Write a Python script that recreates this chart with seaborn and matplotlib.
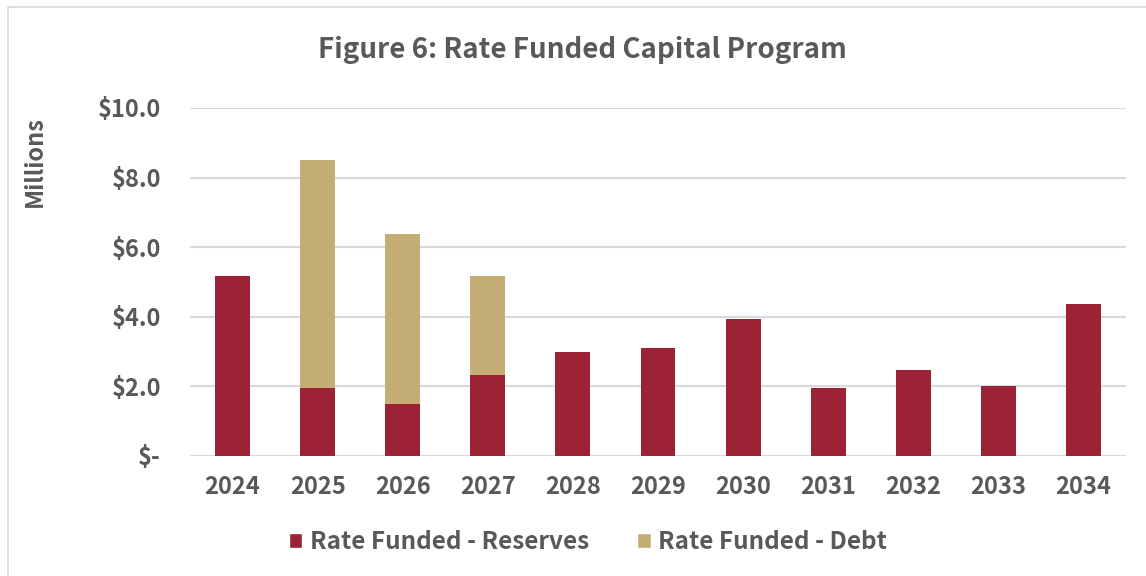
import matplotlib
matplotlib.use('Agg')
import matplotlib.pyplot as plt
from matplotlib.patches import Patch, Rectangle
import seaborn as sns
import pandas as pd

# datos (millones de dolares)
years = ['2024', '2025', '2026', '2027', '2028', '2029', '2030', '2031', '2032', '2033', '2034']
reserves = [5.17, 1.95, 1.49, 2.32, 2.98, 3.10, 3.93, 1.95, 2.47, 2.00, 4.37]
debt = [0.0, 6.56, 4.89, 2.85, 0.0, 0.0, 0.0, 0.0, 0.0, 0.0, 0.0]
series_names = ['Rate Funded - Reserves', 'Rate Funded - Debt']
y_ticks = [0, 2, 4, 6, 8, 10]
y_tick_labels = ['$-', '$2.0', '$4.0', '$6.0', '$8.0', '$10.0']

c_res = '#9c2236'
c_debt = '#c4ae76'
c_text = '#595959'

sns.set_theme(style='white')
plt.rcParams['font.family'] = ['Noto Sans CJK JP', 'DejaVu Sans']

df = pd.DataFrame({'Year': years, 'Reserves': reserves, 'Debt': debt})
df['Total'] = df['Reserves'] + df['Debt']

fig = plt.figure(figsize=(11.46, 5.76), dpi=100)
ax = fig.add_axes([190 / 1146, 1 - 456 / 576, (1126 - 190) / 1146, 348 / 576])

# barras apiladas: primero el total (deuda encima), luego reservas
sns.barplot(data=df, x='Year', y='Total', color=c_debt, width=0.41,
            saturation=1, ax=ax, zorder=3, linewidth=0)
sns.barplot(data=df, x='Year', y='Reserves', color=c_res, width=0.41,
            saturation=1, ax=ax, zorder=3, linewidth=0)

ax.set_ylim(0, 10)
ax.set_xlim(-0.5, len(years) - 0.5)
ax.set_yticks(y_ticks)
ax.set_yticklabels(y_tick_labels)
ax.yaxis.grid(True, color='#d9d9d9', linewidth=1.5, zorder=0)
ax.set_axisbelow(True)
for s in ax.spines.values():
    s.set_visible(False)
ax.tick_params(axis='both', length=0, labelsize=17, labelcolor=c_text)
ax.tick_params(axis='y', pad=21)
ax.tick_params(axis='x', pad=14)
for lab in ax.get_xticklabels() + ax.get_yticklabels():
    lab.set_fontweight('bold')
ax.set_xlabel('')
ax.set_ylabel('')

fig.text(35 / 1146, 1 - 162 / 576, 'Millions', rotation=90, ha='center', va='center',
         fontsize=17, fontweight='bold', color=c_text)
fig.text(582 / 1146, 1 - 50 / 576, 'Figure 6: Rate Funded Capital Program', ha='center',
         va='center', fontsize=20, fontweight='bold', color=c_text)

handles = [Patch(facecolor=c_res), Patch(facecolor=c_debt)]
fig.legend(handles, series_names, loc='center', bbox_to_anchor=(588 / 1146, 1 - 542 / 576),
           ncol=2, frameon=False, handlelength=0.55, handleheight=0.55, handletextpad=0.3,
           columnspacing=2.0, prop={'size': 17.5, 'weight': 'bold'}, labelcolor=c_text)

# borde exterior de la grafica
fig.patches.append(Rectangle((8 / 1146, -0.1), 1.2, 1 - 7 / 576 + 0.1, transform=fig.transFigure,
                             fill=False, edgecolor='#d9d9d9', linewidth=1.2))

fig.savefig('out.png', dpi=100)
